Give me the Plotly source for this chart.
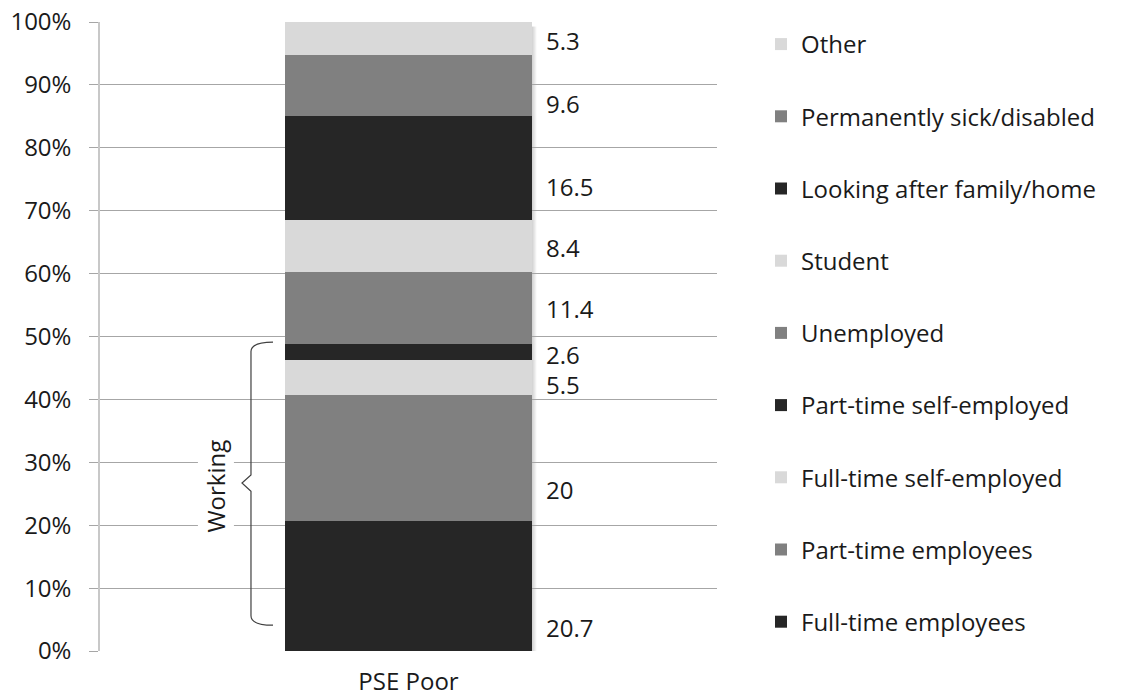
import plotly.graph_objects as go

# stacked shares for the single "PSE Poor" column, bottom segment first
category = ["PSE Poor"]
statuses = [
    "Full-time employees",
    "Part-time employees",
    "Full-time self-employed",
    "Part-time self-employed",
    "Unemployed",
    "Student",
    "Looking after family/home",
    "Permanently sick/disabled",
    "Other",
]
shares = [20.7, 20, 5.5, 2.6, 11.4, 8.4, 16.5, 9.6, 5.3]
label_text = ["20.7", "20", "5.5", "2.6", "11.4", "8.4", "16.5", "9.6", "5.3"]

# where the hand-placed value labels sit (in % of the axis)
label_pos = [3.7, 25.6, 42.3, 47.2, 54.5, 64.2, 73.8, 87.1, 97.1]

colours = ["#262626", "#808080", "#d9d9d9"] * 3
font_name = "'Open Sans', 'Noto Sans', sans-serif"
font_size = 24
grid_col = "#a6a6a6"

fig = go.Figure()
for i, status in enumerate(statuses):
    fig.add_trace(go.Bar(
        x=category, y=[shares[i]], name=status,
        marker=dict(color=colours[i], line=dict(width=0)),
        width=0.4, legendgroup=status, legendrank=100 - i,
    ))

# soft drop shadow along the right edge of the column
for k in range(1, 6):
    fig.add_shape(type="rect", xref="paper", yref="y", layer="below",
                  x0=0.699, x1=0.700 + k * 0.0015, y0=-0.4, y1=99.3,
                  fillcolor="rgba(0,0,0,0.035)", line=dict(width=0))

# value labels to the right of the bar
for txt, pos in zip(label_text, label_pos):
    fig.add_annotation(text=txt, xref="paper", yref="y", x=0.719, y=pos,
                       xanchor="left", yanchor="middle", showarrow=False,
                       font=dict(size=font_size, color="#1a1a1a", family=font_name))

# brace around the working categories
fig.add_shape(type="path", xref="paper", yref="y",
              path="M 0.2804,49.1 Q 0.2447,49.1 0.2447,47.6 L 0.2447,28.0 "
                   "L 0.2301,26.7 L 0.2447,25.4 L 0.2447,5.6 "
                   "Q 0.2447,4.1 0.2804,4.1",
              line=dict(color="#404040", width=1.2))
fig.add_annotation(text="Working", xref="paper", yref="y", x=0.188, y=26.3,
                   xanchor="center", yanchor="middle",
                   textangle=-90, showarrow=False, bgcolor="white",
                   font=dict(size=font_size, color="#1a1a1a", family=font_name))

fig.update_layout(
    barmode="stack",
    width=1147, height=697,
    margin=dict(l=100, r=430, t=22, b=46, autoexpand=False),
    plot_bgcolor="white", paper_bgcolor="white",
    font=dict(family=font_name, size=font_size, color="#1a1a1a"),
    legend=dict(traceorder="grouped", tracegroupgap=38,
                x=(761 - 100) / 617, xanchor="left",
                y=1.0, yanchor="top",
                font=dict(size=font_size),
                bgcolor="rgba(0,0,0,0)"),
    showlegend=True,
)
try:
    fig.update_layout(legend_maxheight=1.0)
except ValueError:
    pass
fig.update_xaxes(showgrid=False, showline=False, ticks="", zeroline=False,
                 ticklabelstandoff=14, automargin=False)
fig.update_yaxes(range=[0, 100], dtick=10, ticksuffix="%", showgrid=True,
                 gridcolor=grid_col, gridwidth=1, zeroline=False,
                 showline=True, linecolor="#c8c8c8", linewidth=1.5,
                 ticks="outside", ticklen=9, tickcolor=grid_col,
                 ticklabelstandoff=13, automargin=False)

# drop the page's default body margin so the figure fills the window
fig.write_html("out.html", config={"displayModeBar": False},
               post_script="document.body.style.margin='0';")
